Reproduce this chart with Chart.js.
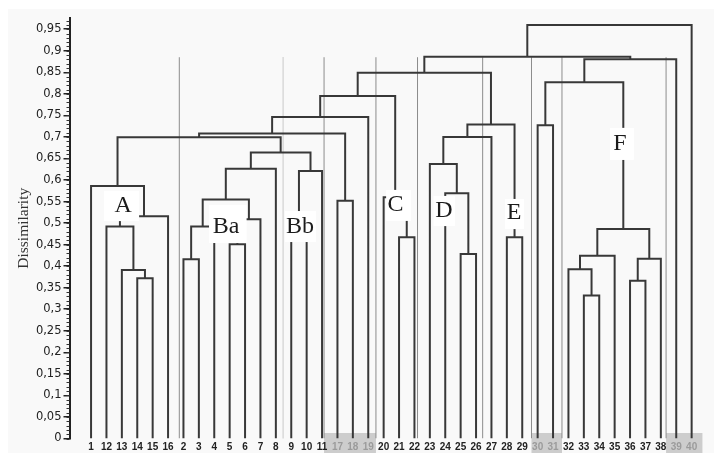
<!DOCTYPE html>
<html>
<head>
<meta charset="utf-8">
<script src="https://cdn.jsdelivr.net/npm/chart.js@4.4.1/dist/chart.umd.min.js"></script>
<style>
  html, body { margin: 0; padding: 0; background: #fff; }
  #wrap { width: 714px; height: 453px; }
</style>
</head>
<body>
<div id="wrap"><canvas id="dendro" width="714" height="453"></canvas></div>
<script>
// leaves in drawing order (left to right)
const leafLabels = ['1','12','13','14','15','16','2','3','4','5','6','7','8','9','10','11',
  '17','18','19','20','21','22','23','24','25','26','27','28','29','30','31',
  '32','33','34','35','36','37','38','39','40'];

// merge table: ids 0-39 are leaves (by position), 40+ are the merges below in order
const mergeLeft   = [3, 2, 1, 42, 0, 6, 45, 9, 47, 46, 49, 13, 51, 50, 44, 16, 54, 56, 20, 19, 57, 24, 23, 22, 63, 27, 64, 60, 29, 32, 31, 70, 35, 72, 71, 68, 75, 67, 77];
const mergeRight  = [4, 40, 41, 5, 43, 7, 8, 10, 11, 48, 12, 14, 15, 52, 53, 17, 55, 18, 21, 58, 59, 25, 61, 62, 26, 28, 65, 66, 30, 33, 69, 34, 36, 37, 73, 74, 38, 76, 39];
const mergeHeight = [0.372, 0.391, 0.492, 0.516, 0.586, 0.416, 0.492, 0.451, 0.509, 0.555,
  0.626, 0.49, 0.621, 0.664, 0.699, 0.552, 0.708, 0.746, 0.467, 0.56,
  0.795, 0.428, 0.569, 0.637, 0.70, 0.467, 0.729, 0.849, 0.727, 0.332,
  0.393, 0.424, 0.366, 0.417, 0.486, 0.827, 0.880, 0.886, 0.960];

const yTicks = [0, 0.05, 0.1, 0.15, 0.2, 0.25, 0.3, 0.35, 0.4, 0.45, 0.5, 0.55, 0.6, 0.65, 0.7, 0.75, 0.8, 0.85, 0.9, 0.95];

// group separators (leaf units) and grey label bands
const separatorX = [5.73, 15.13, 18.5, 21.2, 25.43, 28.6, 30.58, 37.34];
const dottedSeparatorX = [12.47];
const separatorTop = 0.885;
const greyBands = [[15.13, 18.5], [28.6, 30.58], [37.34, 39.7]];

// cluster names with the white boxes that sit over the tree
const clusterNames  = ['A', 'Ba', 'Bb', 'C', 'D', 'E', 'F'];
const clusterLabelX = [2.08, 8.77, 13.57, 19.77, 22.92, 27.47, 34.35];
const clusterLabelY = [0.540, 0.491, 0.491, 0.542, 0.528, 0.523, 0.685];
const labelBoxes = [ // x0, x1, yTop, yBottom
  [0.84, 3.12, 0.575, 0.5046],
  [7.66, 10.1, 0.542, 0.4537],
  [12.6, 14.6, 0.528, 0.456],
  [19.16, 20.78, 0.577, 0.505],
  [22.24, 23.64, 0.563, 0.493],
  [26.88, 28.11, 0.556, 0.486],
  [33.7, 35.25, 0.721, 0.6465]
];

// build the tree links (each merge = left leg, bar, right leg)
const nodeX = leafLabels.map((_, i) => i);
const nodeH = leafLabels.map(() => 0);
const linkPoints = [];
mergeHeight.forEach((h, k) => {
  const a = mergeLeft[k], b = mergeRight[k];
  linkPoints.push({x: nodeX[a], y: nodeH[a]}, {x: nodeX[a], y: h},
                  {x: nodeX[b], y: h}, {x: nodeX[b], y: nodeH[b]}, {x: nodeX[b], y: null});
  nodeX.push((nodeX[a] + nodeX[b]) / 2);
  nodeH.push(h);
});

function vLines(xs) {
  const pts = [];
  xs.forEach(x => { pts.push({x: x, y: 0}, {x: x, y: separatorTop}, {x: x, y: null}); });
  return pts;
}

function inGreyBand(i) {
  return greyBands.some(b => i > b[0] && i < b[1]);
}

const decor = {
  id: 'decor',
  beforeDraw(chart) {
    const ctx = chart.ctx, xs = chart.scales.x, ys = chart.scales.y;
    ctx.save();
    ctx.fillStyle = '#ffffff';
    ctx.fillRect(0, 0, chart.width, chart.height);
    ctx.fillStyle = '#f9f9f9';
    ctx.fillRect(8, 9, chart.width - 8, chart.height - 9);
    ctx.fillStyle = '#cdcdcd';
    const top = ys.getPixelForValue(0.0128);
    greyBands.forEach(b => {
      const x0 = xs.getPixelForValue(b[0]), x1 = xs.getPixelForValue(b[1]);
      ctx.fillRect(x0, top, x1 - x0, chart.height - top);
    });
    ctx.restore();
  },
  afterDatasetsDraw(chart) {
    const ctx = chart.ctx, xs = chart.scales.x, ys = chart.scales.y;
    ctx.save();
    labelBoxes.forEach(b => {
      const x0 = xs.getPixelForValue(b[0]), x1 = xs.getPixelForValue(b[1]);
      const y0 = ys.getPixelForValue(b[2]), y1 = ys.getPixelForValue(b[3]);
      ctx.fillStyle = '#ffffff';
      ctx.fillRect(x0, y0, x1 - x0, y1 - y0);
    });
    ctx.fillStyle = '#1c1c1c';
    ctx.font = '24px "Liberation Serif", "DejaVu Serif", serif';
    ctx.textAlign = 'center';
    ctx.textBaseline = 'middle';
    clusterNames.forEach((name, i) => {
      ctx.fillText(name, xs.getPixelForValue(clusterLabelX[i]), ys.getPixelForValue(clusterLabelY[i]));
    });
    ctx.restore();
  },
  afterDraw(chart) {
    // minor ruler ticks on the y axis
    const ctx = chart.ctx, ys = chart.scales.y;
    const x = chart.chartArea.left;
    ctx.save();
    ctx.strokeStyle = '#333';
    ctx.lineWidth = 1;
    ctx.beginPath();
    for (let v = 0; v <= 97; v++) {
      const y = Math.round(ys.getPixelForValue(v / 100)) + 0.5;
      ctx.moveTo(x - 3, y);
      ctx.lineTo(x, y);
    }
    ctx.stroke();
    ctx.restore();
  }
};

const ctx = document.getElementById('dendro').getContext('2d');
new Chart(ctx, {
  type: 'line',
  data: {
    datasets: [
      {
        label: 'separators',
        data: vLines(separatorX),
        borderColor: '#8c8c8c',
        borderWidth: 1,
        pointRadius: 0,
        spanGaps: false,
        order: 3
      },
      {
        label: 'dotted separator',
        data: vLines(dottedSeparatorX),
        borderColor: '#9a9a9a',
        borderWidth: 1,
        borderDash: [1, 1],
        pointRadius: 0,
        spanGaps: false,
        order: 2
      },
      {
        label: 'tree',
        data: linkPoints,
        borderColor: '#383838',
        borderWidth: 2,
        borderJoinStyle: 'miter',
        borderCapStyle: 'butt',
        pointRadius: 0,
        tension: 0,
        spanGaps: false,
        order: 1
      }
    ]
  },
  options: {
    responsive: false,
    animation: false,
    events: [],
    layout: { padding: { top: 18, right: 8.5, left: 0, bottom: 0 } },
    plugins: {
      legend: { display: false },
      tooltip: { enabled: false }
    },
    scales: {
      x: {
        type: 'linear',
        min: -1.4,
        max: 39.9,
        grid: { display: false, drawTicks: false },
        border: { display: false },
        afterBuildTicks: s => { s.ticks = leafLabels.map((_, i) => ({ value: i })); },
        afterFit: s => { s.height = 14.5; },
        ticks: {
          autoSkip: false,
          maxRotation: 0,
          padding: 3,
          font: { family: '"Liberation Sans", sans-serif', size: 10, weight: 'bold' },
          color: c => inGreyBand(c.tick ? c.tick.value : c.index) ? '#9b9b9b' : '#222',
          callback: v => leafLabels[v]
        }
      },
      y: {
        min: 0,
        max: 0.976,
        afterBuildTicks: s => { s.ticks = yTicks.map(v => ({ value: v })); },
        afterFit: s => { s.width = 69.5; },
        grid: { drawOnChartArea: false, drawTicks: true, tickLength: 6, color: '#222', lineWidth: 1.5 },
        border: { display: true, color: '#222', width: 2 },
        ticks: {
          padding: 2,
          font: { family: '"DejaVu Sans", sans-serif', size: 11.5 },
          color: '#222',
          callback: v => String(v).replace('.', ',')
        },
        title: {
          display: true,
          text: 'Dissimilarity',
          font: { family: '"Liberation Serif", serif', size: 15.5 },
          color: '#333',
          padding: { top: 15, bottom: 0 }
        }
      }
    }
  },
  plugins: [decor]
});
</script>
</body>
</html>
